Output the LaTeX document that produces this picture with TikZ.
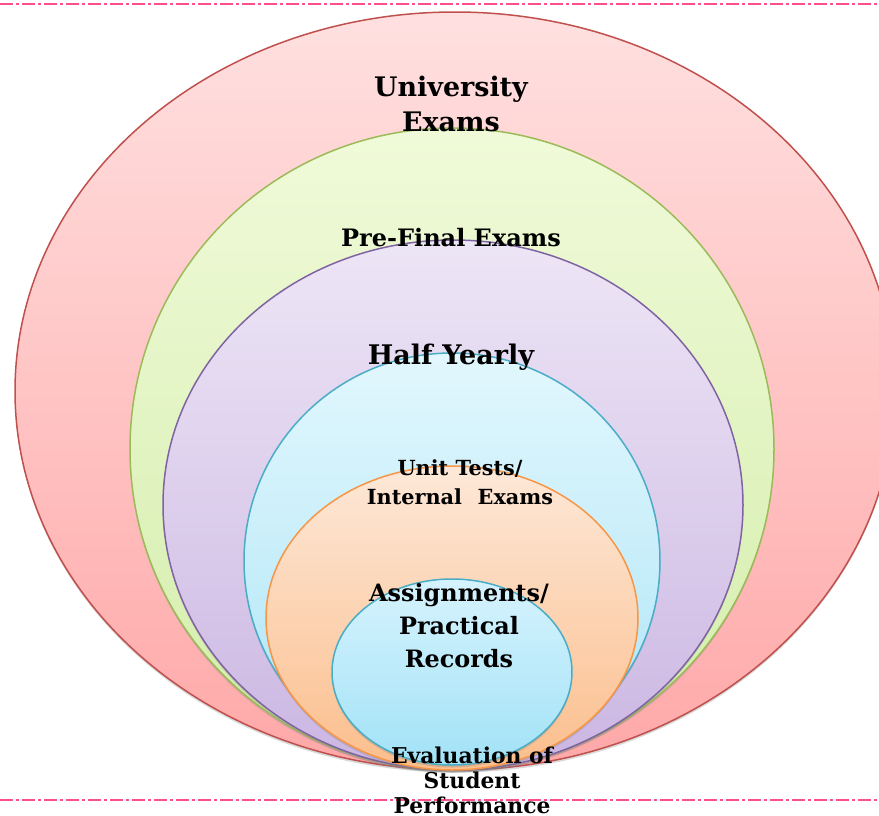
\documentclass[tikz,border=0pt]{standalone}
\usepackage{fontspec}
\setmainfont{DejaVu Serif}
\usetikzlibrary{shadows}
\definecolor{uniline}{HTML}{C0504D}
\definecolor{unitop}{HTML}{FFE0E0}
\definecolor{unibot}{HTML}{FFA8A8}
\definecolor{preline}{HTML}{9BBB59}
\definecolor{pretop}{HTML}{F0FAD9}
\definecolor{prebot}{HTML}{D3EDAA}
\definecolor{halfline}{HTML}{8064A2}
\definecolor{halftop}{HTML}{EDE6F6}
\definecolor{halfbot}{HTML}{CBB6E2}
\definecolor{unitline}{HTML}{4BACC6}
\definecolor{unittop}{HTML}{E2F7FD}
\definecolor{unitbot}{HTML}{ADE5F7}
\definecolor{assline}{HTML}{F79646}
\definecolor{asstop}{HTML}{FDE8D8}
\definecolor{assbot}{HTML}{FBBE8C}
\definecolor{evaltop}{HTML}{D6F3FD}
\definecolor{evalbot}{HTML}{A2E2F7}
\definecolor{rule}{HTML}{FF4F8B}
\tikzset{
  layer/.style={line width=1.5pt, drop shadow={opacity=0.3, shadow xshift=0pt, shadow yshift=-2.5pt}},
  label/.style={font=\bfseries\fontsize{#1}{#1}\selectfont, align=center, inner sep=0pt},
  border/.style={rule, line width=2.6pt, dash pattern=on 13pt off 3pt on 3pt off 3pt}
}

\begin{document}
\begin{tikzpicture}[x=1pt,y=-1pt]
\useasboundingbox (0,0) rectangle (879,815);
\clip (0,0) rectangle (879,815);

% rings, outermost first, all touching at the bottom
\path[layer, draw=uniline, top color=unitop, bottom color=unibot]
  (455,391) ellipse [x radius=440pt, y radius=379pt];
\path[layer, draw=preline, top color=pretop, bottom color=prebot]
  (452,449) ellipse [x radius=322pt, y radius=321pt];
\path[layer, draw=halfline, top color=halftop, bottom color=halfbot]
  (453,505) ellipse [x radius=290pt, y radius=265pt];
\path[layer, draw=unitline, top color=unittop, bottom color=unitbot]
  (452,561) ellipse [x radius=208pt, y radius=208pt];
\path[layer, draw=assline, top color=asstop, bottom color=assbot]
  (452,618) ellipse [x radius=186pt, y radius=152pt];
\path[layer, draw=unitline, top color=evaltop, bottom color=evalbot]
  (452,672) ellipse [x radius=120pt, y radius=93pt];

% dash-dot rules
\coordinate (tl) at (0,4);
\coordinate (tr) at (879,4);
\coordinate (bl) at (0,800);
\coordinate (br) at (879,800);
\draw[border] (tl) -- (tr);
\draw[border] (bl) -- (br);

% labels
\node[label=26.9, execute at begin node=\setlength{\baselineskip}{35pt}] (uni) at (451,104) {University\\Exams};
\node[label=24] (pre) at (451,238) {Pre-Final Exams};
\node[label=27] (half) at (451,357) {Half Yearly};
\node[label=20.8, execute at begin node=\setlength{\baselineskip}{29pt}] (unit) at (460,482) {Unit Tests/\\Internal\hspace{0.75em}Exams};
\node[label=23.9, execute at begin node=\setlength{\baselineskip}{33pt}] (ass) at (459,626) {Assignments/\\Practical\\Records};
\node[label=21.8, execute at begin node=\setlength{\baselineskip}{25pt}] (eval) at (472,780) {Evaluation of\\Student\\Performance};
\end{tikzpicture}
\end{document}
